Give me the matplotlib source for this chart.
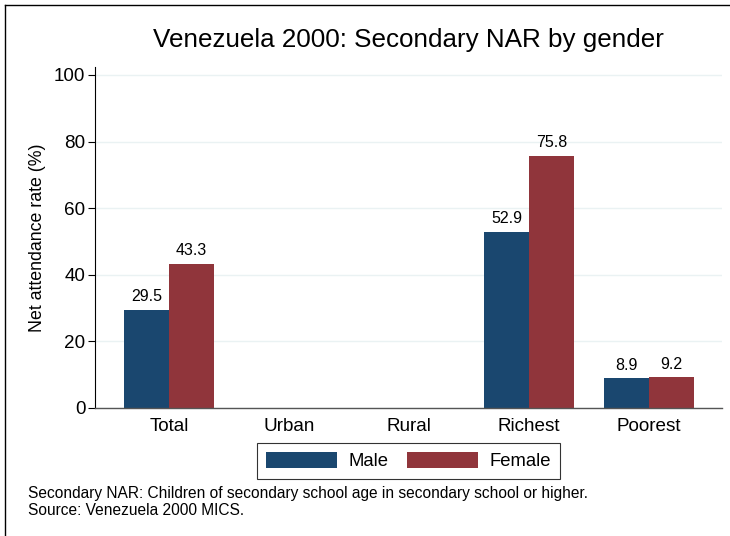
import matplotlib
matplotlib.use("Agg")
import matplotlib.pyplot as plt
import numpy as np
from matplotlib.lines import Line2D

plt.rcParams.update({
    "font.family": ["Liberation Sans", "DejaVu Sans"],
    "font.size": 13,
})

categories = ["Total", "Urban", "Rural", "Richest", "Poorest"]
male = [29.5, np.nan, np.nan, 52.9, 8.9]
female = [43.3, np.nan, np.nan, 75.8, 9.2]
series_names = ["Male", "Female"]
y_ticks = [0, 20, 40, 60, 80, 100]

title = "Venezuela 2000: Secondary NAR by gender"
y_label = "Net attendance rate (%)"
notes = [
    "Secondary NAR: Children of secondary school age in secondary school or higher.",
    "Source: Venezuela 2000 MICS.",
]

COLORS = {"male": "#1a476f", "female": "#90353b", "grid": "#eaf2f3"}

W, H = 730, 536
fig = plt.figure(figsize=(W / 100, H / 100), dpi=100)
fig.patch.set_facecolor("white")

# outer frame (only top/left visible in the crop)
fig.add_artist(Line2D([5 / W, 1.0], [1 - 5 / H, 1 - 5 / H], transform=fig.transFigure, color="black", lw=1))
fig.add_artist(Line2D([5 / W, 5 / W], [0.0, 1 - 5 / H], transform=fig.transFigure, color="black", lw=1))

ax = fig.add_axes([95 / W, 1 - 408 / H, (722 - 95) / W, (408 - 67) / H])

x = np.arange(len(categories))
bw = 0.375
b1 = ax.bar(x - bw / 2, male, bw, color=COLORS["male"], label=series_names[0], zorder=2)
b2 = ax.bar(x + bw / 2, female, bw, color=COLORS["female"], label=series_names[1], zorder=2)

for bars, vals in [(b1, male), (b2, female)]:
    for rect, v in zip(bars, vals):
        if np.isnan(v):
            continue
        ax.annotate(f"{v:.1f}", (rect.get_x() + rect.get_width() / 2, v),
                    xytext=(0, 4), textcoords="offset points",
                    ha="center", va="bottom", fontsize=11.5)

ax.set_xlim(-0.617, 4.61)
ax.set_ylim(0, 102.4)
ax.set_yticks(y_ticks)
ax.set_xticks(x)
ax.set_xticklabels(categories)
ax.tick_params(axis="x", length=0, pad=7, labelsize=13.6)
ax.tick_params(axis="y", length=5, width=0.8, labelsize=13.6, pad=2)
ax.yaxis.grid(True, color=COLORS["grid"], lw=1, zorder=0)
ax.set_axisbelow(True)
for s in ["top", "right"]:
    ax.spines[s].set_visible(False)
ax.spines["left"].set_linewidth(0.8)
ax.spines["bottom"].set_color("#555555")
ax.spines["bottom"].set_linewidth(1.0)
ax.set_ylabel(y_label, fontsize=12.8, labelpad=6)

fig.text(408.5 / W, 1 - 40 / H, title, ha="center", va="center", fontsize=18.7)

leg = ax.legend(loc="center", bbox_to_anchor=(408.5 / W, 1 - 461 / H),
                bbox_transform=fig.transFigure, ncol=2, frameon=True,
                fancybox=False, edgecolor="black", fontsize=13.3,
                handlelength=3.85, handleheight=0.97, columnspacing=0.97,
                handletextpad=0.65, borderpad=0.45, borderaxespad=0)
leg.get_frame().set_linewidth(0.8)

fig.text(28 / W, 1 - 498 / H, notes[0], ha="left", va="baseline", fontsize=11.2)
fig.text(28 / W, 1 - 515 / H, notes[1], ha="left", va="baseline", fontsize=11.2)

fig.savefig("out.png", dpi=100, facecolor="white")
